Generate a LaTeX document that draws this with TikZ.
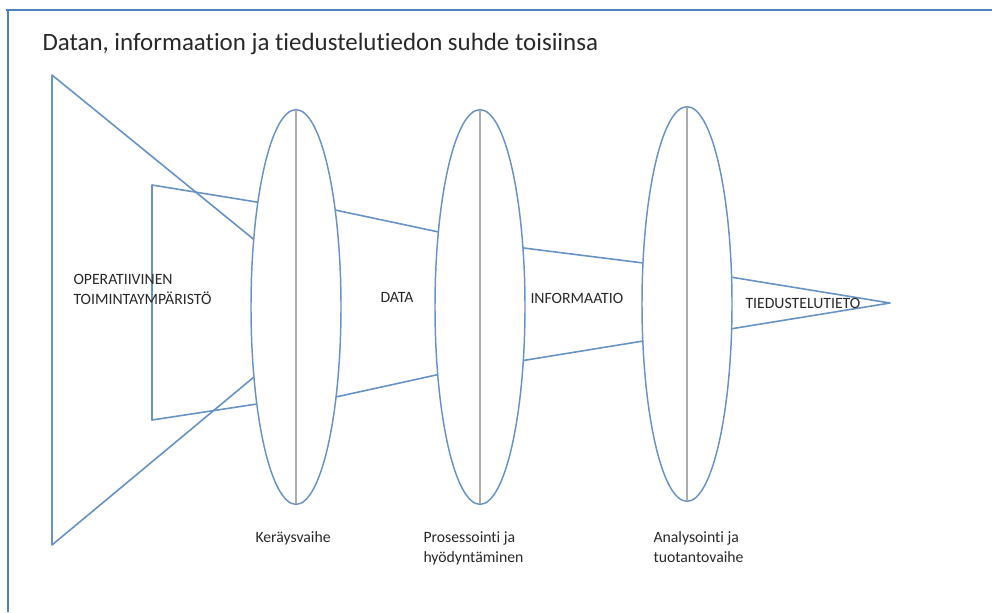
\documentclass[tikz,border=0pt]{standalone}
\usepackage{fontspec}
\setmainfont{Carlito}[Ligatures=NoCommon]
\usetikzlibrary{shapes.geometric}

\definecolor{frameblue}{RGB}{79,129,189}
\definecolor{lensblue}{RGB}{104,146,196}
\definecolor{axisgray}{RGB}{172,172,172}
\definecolor{textgray}{RGB}{40,40,40}

\tikzset{every picture/.style={line width=0.75pt},
  lens/.style={ellipse, draw=lensblue, line width=1.1pt, minimum width=67.5pt, minimum height=296pt, inner sep=0pt, outer sep=0pt},
  funnel/.style={draw=lensblue, line width=1.2pt, line join=round},
  axisline/.style={draw=axisgray, line width=1.8pt},
  frameline/.style={draw=frameblue, line width=1.5pt},
  txt/.style={anchor=base west, inner sep=0pt, text=textgray, font=\fontsize{11.8}{15}\selectfont},
  txtblock/.style={txt, align=left}
}

\begin{document}
\begin{tikzpicture}[x=0.75pt,y=0.75pt,yscale=-1,xscale=1]
\useasboundingbox (0,0) rectangle (992,612);

%Frame
\draw[frameline] (6,10) -- (992,10);
\draw[frameline] (8,10) -- (8,612);

% Text Node
\node[anchor=base west, inner sep=0pt, text=textgray, font=\fontsize{18.7}{22}\selectfont] (otsikko) at (42,50) {Datan, informaation ja tiedustelutiedon suhde toisiinsa};

%Shape: Ellipse (lenses)
\node[lens] (keruu) at (296,307) {};
\node[lens] (prosessointi) at (480,307) {};
\node[lens] (analyysi) at (687,304) {};
\draw[axisline] (keruu.north) -- (keruu.south);
\draw[axisline] (prosessointi.north) -- (prosessointi.south);
\draw[axisline] (analyysi.north) -- (analyysi.south);

%Straight Lines
\coordinate (ympYla) at (52,75);
\coordinate (ympAla) at (52,545);
\coordinate (kehysYla) at (152,185);
\coordinate (kehysAla) at (152,420);
\coordinate (karki) at (890,303);
\draw[funnel] (keruu.122) -- (ympYla) -- (ympAla) -- (keruu.239);
\draw[funnel] (keruu.110) -- (kehysYla) -- (kehysAla) -- (keruu.248);
\draw[funnel] (keruu.68) -- (prosessointi.119);
\draw[funnel] (keruu.-66) -- (prosessointi.238);
\draw[funnel] (prosessointi.54) -- (analyysi.137);
\draw[funnel] (prosessointi.-51) -- (analyysi.220);
\draw[funnel] (analyysi.31) -- (karki) -- (analyysi.-29);

% Text Node
\node[txtblock] (ymparisto) at (73,304) {OPERATIIVINEN\\TOIMINTAYMPÄRISTÖ};
% Text Node
\node[txt] (data) at (380,302) {DATA};
% Text Node
\node[txt] (informaatio) at (530,303) {INFORMAATIO};
% Text Node
\node[txt] (tieto) at (745,308) {TIEDUSTELUTIETO};
% Text Node
\node[txt] (kerays) at (255,542) {Keräysvaihe};
% Text Node
\node[txtblock] (prosessi) at (423,562) {Prosessointi ja\\hyödyntäminen};
% Text Node
\node[txtblock] (analyysivaihe) at (653,562) {Analysointi ja\\tuotantovaihe};

\end{tikzpicture}
\end{document}
